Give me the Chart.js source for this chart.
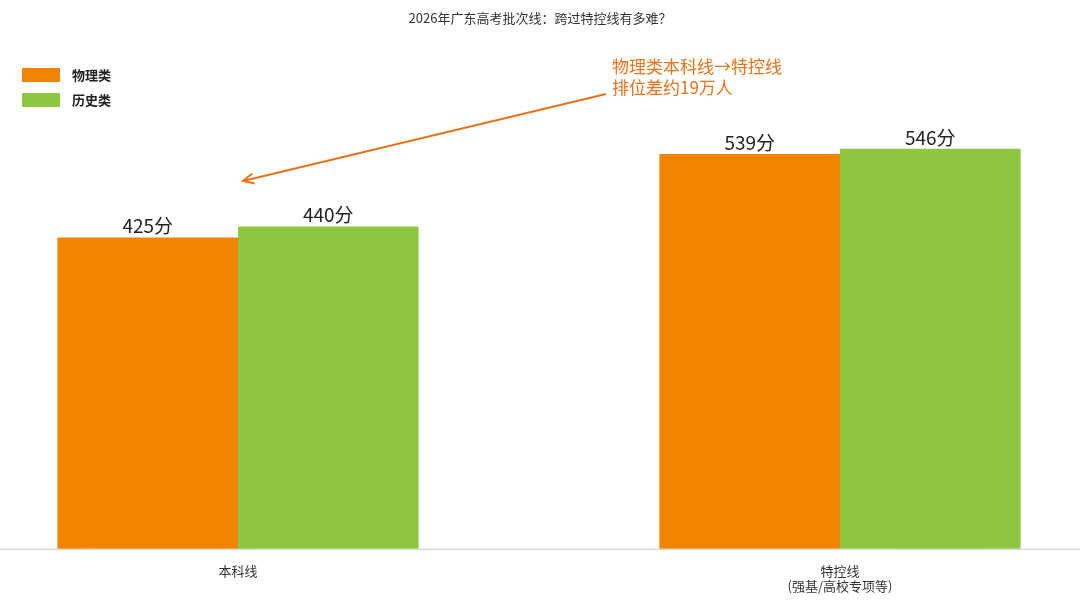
<!DOCTYPE html>
<html><head><meta charset="utf-8">
<script src="https://cdn.jsdelivr.net/npm/chart.js@4/dist/chart.umd.min.js"></script>
<style>html,body{margin:0;background:#fff}#w{width:1080px;height:600px}</style>
</head><body><div id="w"><canvas id="c"></canvas></div>
<script>
const categories = [["本科线"], ["特控线", "(强基/高校专项等)"]];
const physics = [425, 539];
const history = [440, 546];
const seriesNames = ["物理类", "历史类"];
const colors = ["#F08300", "#8DC63F"];
const titleText = "2026年广东高考批次线：跨过特控线有多难？";
const noteLines = ["物理类本科线→特控线", "排位差约19万人"];
const FONT = '"Noto Sans CJK SC", "Noto Sans", sans-serif';

const extras = {
  id: 'extras',
  afterDraw(chart) {
    const ctx = chart.ctx, ca = chart.chartArea;
    ctx.save();
    // baseline
    ctx.strokeStyle = '#cccccc'; ctx.lineWidth = 1;
    ctx.beginPath(); ctx.moveTo(0, ca.bottom + 0.5); ctx.lineTo(1080, ca.bottom + 0.5); ctx.stroke();
    // title
    ctx.fillStyle = '#333'; ctx.font = '13px ' + FONT; ctx.textAlign = 'center'; ctx.textBaseline = 'middle';
    ctx.fillText(titleText, 540, 18);
    // legend
    ctx.textAlign = 'left'; ctx.font = 'bold 13px ' + FONT;
    seriesNames.forEach((n, i) => {
      ctx.fillStyle = colors[i]; ctx.fillRect(22, 68 + i * 25, 38, 14);
      ctx.fillStyle = '#222'; ctx.fillText(n, 72, 75 + i * 25);
    });
    // value labels
    ctx.font = '19px ' + FONT; ctx.textAlign = 'center'; ctx.textBaseline = 'bottom'; ctx.fillStyle = '#222';
    chart.data.datasets.forEach((ds, di) => {
      chart.getDatasetMeta(di).data.forEach((b, j) => ctx.fillText(ds.data[j] + '分', b.x, b.y - 2));
    });
    // annotation
    ctx.fillStyle = '#E8731A'; ctx.font = '17px ' + FONT; ctx.textAlign = 'left'; ctx.textBaseline = 'middle';
    noteLines.forEach((t, i) => ctx.fillText(t, 612, 67 + i * 21));
    const x0 = 606, y0 = 94, x1 = 243, y1 = 181;
    ctx.strokeStyle = '#E8731A'; ctx.lineWidth = 2;
    ctx.beginPath(); ctx.moveTo(x0, y0); ctx.lineTo(x1, y1); ctx.stroke();
    const a = Math.atan2(y1 - y0, x1 - x0);
    ctx.beginPath();
    ctx.moveTo(x1 - 12 * Math.cos(a - 0.45), y1 - 12 * Math.sin(a - 0.45));
    ctx.lineTo(x1, y1);
    ctx.lineTo(x1 - 12 * Math.cos(a + 0.45), y1 - 12 * Math.sin(a + 0.45));
    ctx.stroke();
    ctx.restore();
  }
};

new Chart(document.getElementById('c'), {
  type: 'bar',
  data: {
    labels: categories,
    datasets: [
      { label: seriesNames[0], data: physics, backgroundColor: colors[0], clip: false },
      { label: seriesNames[1], data: history, backgroundColor: colors[1], clip: false }
    ]
  },
  options: {
    responsive: true, maintainAspectRatio: false, animation: false,
    categoryPercentage: 0.6, barPercentage: 1,
    layout: { padding: { left: 238, right: 240, top: 36, bottom: 0 } },
    plugins: { legend: { display: false }, tooltip: { enabled: false } },
    scales: {
      x: { offset: false, grid: { display: false }, border: { display: false },
           ticks: { color: '#333', font: { size: 13, family: FONT }, padding: 6, maxRotation: 0 } },
      y: { display: false, min: 0, max: 700 }
    }
  },
  plugins: [extras]
});
</script></body></html>
